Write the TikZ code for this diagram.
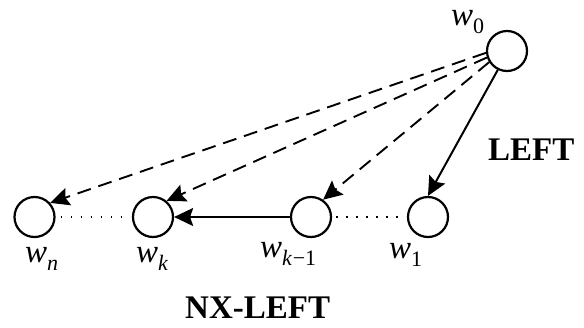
\documentclass[tikz,border=0pt]{standalone}
\usepackage{fontspec}
\setmainfont{Liberation Serif}
\usetikzlibrary{arrows.meta}
\newcommand{\wsub}[1]{\textit{w}\raisebox{-8pt}{\fontsize{22}{22}\selectfont #1}}
\begin{document}
\begin{tikzpicture}[x=1pt,y=-1pt,
  circ/.style={draw, circle, line width=2.2pt, minimum size=40pt, inner sep=0pt},
  lbl/.style={inner sep=0pt, font=\fontsize{33}{33}\selectfont},
  bold/.style={inner sep=0pt, font=\fontsize{33}{33}\selectfont\bfseries},
  tip/.style={-{Stealth[length=19pt,width=18pt,inset=3pt]}},
  dsh/.style={tip, line width=1.9pt, dash pattern=on 14pt off 8pt},
  sol/.style={tip, line width=2pt},
  dots/.style={line width=1.8pt, dash pattern=on 1.8pt off 8.2pt}]
\useasboundingbox (0,0) rectangle (584,327);
\node[circ] (w0) at (507,51) {};
\node[circ] (wn) at (34.5,217) {};
\node[circ] (wk) at (153,217) {};
\node[circ] (wk1) at (311,217) {};
\node[circ] (w1) at (428,217) {};
\node[lbl, anchor=base west] (l0) at (451,25) {\wsub{0}};
\node[lbl, anchor=base west] (ln) at (25,262) {\wsub{\textit{n}}};
\node[lbl, anchor=base west] (lk) at (136,262) {\wsub{\textit{k}}};
\node[lbl, anchor=base west] (lk1) at (260,257) {\wsub{\textit{k}\kern0.5pt−1}};
\node[lbl, anchor=base west] (l1) at (389,258) {\wsub{1}};
\node[bold, anchor=base west] (left) at (488,160) {LEFT};
\node[bold, anchor=base west] (nxleft) at (185,318) {NX-LEFT};
\draw[dsh] (w0.185) -- (wn.42);
\draw[dsh] (w0.198) -- (wk.50);
\draw[dsh] (w0.212) -- (wk1.55);
\draw[sol] (w0.244) -- (w1.90);
\draw[sol] (wk1.west) -- (wk.east);
\draw[dots, shorten <=5pt, shorten >=9pt] (wn.east) -- (wk.west);
\draw[dots, shorten <=4pt, shorten >=7pt] (wk1.east) -- (w1.west);
\end{tikzpicture}
\end{document}
